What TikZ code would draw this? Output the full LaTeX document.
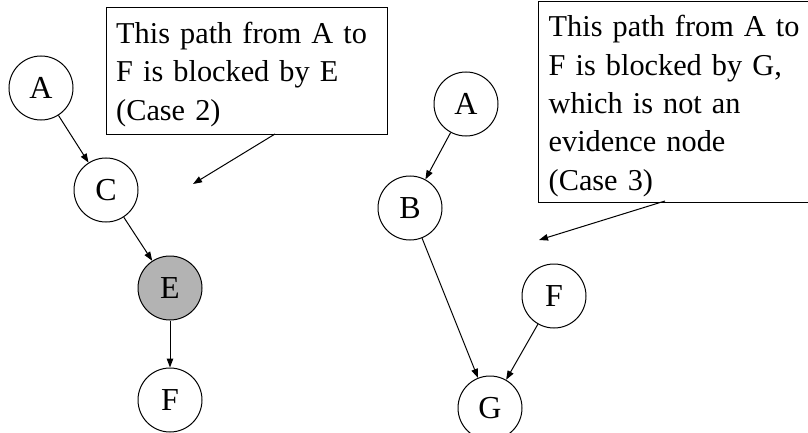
\documentclass[tikz,border=0pt]{standalone}
\usepackage{fontspec}
\setmainfont{Liberation Serif}
\usetikzlibrary{arrows.meta}
\definecolor{evgray}{RGB}{179,179,179}
\tikzset{
  vnode/.style={circle,draw,line width=1pt,minimum size=64pt,inner sep=0pt,font=\fontsize{32}{34}\selectfont},
  evnode/.style={vnode,fill=evgray},
  edgearrow/.style={-{Triangle[length=9pt,width=6.5pt]},line width=1pt},
  callbox/.style={draw,line width=1pt,anchor=north west,inner sep=0pt},
  calltext/.style={anchor=base west,inner sep=0pt,align=left,text width=300pt,font=\fontsize{30.3}{38.4}\selectfont}
}
\begin{document}
\begin{tikzpicture}[x=1pt,y=-1pt]
\useasboundingbox (0,0) rectangle (808,433);
\clip (0,0) rectangle (808,433);
% left graph
\node[vnode] (A1) at (41,88) {A};
\node[vnode] (C1) at (106,190) {C};
\node[evnode] (E1) at (170,288) {E};
\node[vnode] (F1) at (170,400) {F};
\draw[edgearrow] (A1) -- (C1);
\draw[edgearrow] (C1) -- (E1);
\draw[edgearrow] (E1) -- (F1);
% box 1
\node[callbox,minimum width=281pt,minimum height=127pt] (box1) at (106,7) {};
\node[calltext] (txt1) at (116,43.5) {This path from A to\\F is blocked by E\\(Case 2)};
\coordinate (s1) at (275,134);
\coordinate (t1) at (193,184);
\draw[edgearrow] (s1) -- (t1);
% right graph
\node[vnode] (A2) at (466,104) {A};
\node[vnode] (B2) at (410,208) {B};
\node[vnode] (F2) at (554,296) {F};
\node[vnode] (G2) at (490,408) {G};
\draw[edgearrow] (A2) -- (B2);
\draw[edgearrow] (B2) -- (G2);
\draw[edgearrow] (F2) -- (G2);
% box 2
\node[callbox,minimum width=275pt,minimum height=201pt] (box2) at (538,0.6) {};
\node[calltext] (txt2) at (548.5,36.7) {This path from A to\\F is blocked by G,\\which is not an\\evidence node\\(Case 3)};
\coordinate (s2) at (665,201);
\coordinate (t2) at (539,240);
\draw[edgearrow] (s2) -- (t2);
\end{tikzpicture}
\end{document}
